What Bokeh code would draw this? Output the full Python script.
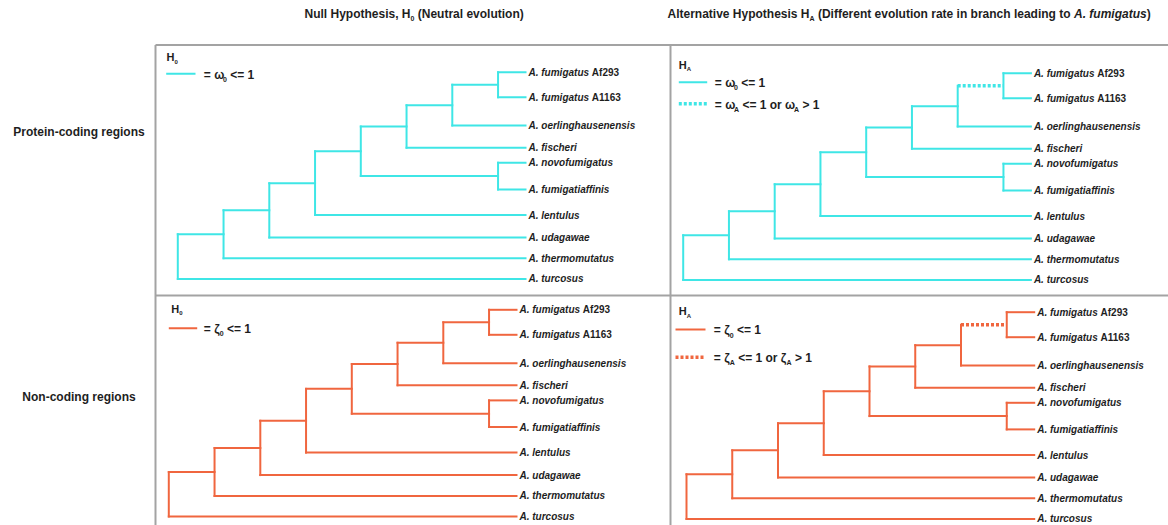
from bokeh.plotting import figure
from bokeh.models import Range1d
from bokeh.embed import file_html
from bokeh.resources import INLINE
from bokeh.core.properties import value

W, H = 1168, 525
FONT = "Liberation Sans"
INK = "#1e1e1e"
CYAN = "#3FE6E6"
ORANGE = "#F0663F"
FRAME = "#a3a3a3"

# ---- tree data -------------------------------------------------------------
# taxa from top to bottom
TAXA = ["A. fumigatus Af293", "A. fumigatus A1163", "A. oerlinghausenensis",
        "A. fischeri", "A. novofumigatus", "A. fumigatiaffinis", "A. lentulus",
        "A. udagawae", "A. thermomutatus", "A. turcosus"]

# internal nodes, their two children and their depth level in the cladogram
NODES = ["root", "n1", "n2", "n3", "n4", "n5", "n6", "fumigatus", "novo"]
NODE_CHILDREN = [("n1", "A. turcosus"),
                 ("n2", "A. thermomutatus"),
                 ("n3", "A. udagawae"),
                 ("n4", "A. lentulus"),
                 ("n5", "novo"),
                 ("n6", "A. fischeri"),
                 ("fumigatus", "A. oerlinghausenensis"),
                 ("A. fumigatus Af293", "A. fumigatus A1163"),
                 ("A. novofumigatus", "A. fumigatiaffinis")]
NODE_DEPTH = [0, 1, 2, 3, 4, 5, 6, 7, 7]
TIP_DEPTH = 7.6
FOREGROUND = "fumigatus"   # branch leading to A. fumigatus

# ---- layout ----------------------------------------------------------------
STEP = 45.75                       # px per depth level
ROW_GAPS = [25, 28.4, 22.1, 15.1, 26.6, 25.6, 22.5, 20.8, 20.6]   # px between tips

# advance widths (1/1000 em) of a bold Helvetica-metric face
ADV = {}
ADV.update({c: 278 for c in " ,.ilIj"})
ADV.update({c: 333 for c in "()-ft"})
ADV["r"] = 389
ADV.update({c: 556 for c in "0123456789aceksvxyJ"})
ADV.update({c: 611 for c in "bdghnopquLFTZ"})
ADV.update({c: 584 for c in "<=>"})
ADV.update({c: 722 for c in "ABCDHKNRU"})
ADV.update({c: 667 for c in "EPSVXY"})
ADV.update({c: 778 for c in "GOQw"})
ADV.update({"m": 889, "M": 833, "W": 944, "z": 500,
            "\u03c9": 740, "\u03b6": 470})


def text_width(s, size):
    return sum(ADV.get(c, 600) for c in s) * size / 1000.0


p = figure(width=W, height=H, output_backend="svg", toolbar_location=None,
           x_range=Range1d(0, W), y_range=Range1d(H, 0),
           min_border=0, min_border_left=0, min_border_right=0,
           min_border_top=0, min_border_bottom=0)
p.axis.visible = False
p.grid.visible = False
p.outline_line_color = None
p.background_fill_color = "white"
p.border_fill_color = "white"


def runs(x, yc, parts, size, sub_size=None, drop=3.0):
    """Draw one line of bold / bold-italic / subscript pieces; yc = cap centre."""
    sub_size = sub_size or round(size * 0.58)
    for txt, kind in parts:
        fs = sub_size if kind == "sub" else size
        yy = yc + (0.36 * size + drop - 0.36 * sub_size if kind == "sub" else 0)
        style = "bold italic" if kind == "bi" else "bold"
        lead = len(txt) - len(txt.lstrip(" "))
        x += text_width(" " * lead, fs)
        core = txt.strip(" ")
        if core:
            p.text(x=[x], y=[yy], text=[core], text_font=value(FONT),
                   text_font_size=f"{fs}px", text_font_style=style,
                   text_color=INK, text_baseline="middle", text_align="left")
        x += text_width(txt.lstrip(" "), fs)


# ---- headings and row labels -------------------------------------------------
runs(304, 13.3, [("Null Hypothesis, H", "b"), ("0", "sub"),
                 (" (Neutral evolution)", "b")], 12, sub_size=7)
runs(667, 13.3, [("Alternative Hypothesis H", "b"), ("A", "sub"),
                 (" (Different evolution rate in branch leading to ", "b"),
                 ("A. fumigatus", "bi"), (")", "b")], 12, sub_size=7)

for label, yc in [("Protein-coding regions", 131.5), ("Non-coding regions", 396.5)]:
    p.text(x=[78.5], y=[yc], text=[label], text_font=value(FONT),
           text_font_size="12px", text_font_style="bold", text_color=INK,
           text_align="center", text_baseline="middle")

# ---- panel frames ------------------------------------------------------------
p.segment(x0=[155, 155, 155, 670], y0=[44.5, 295, 44.5, 44.5],
          x1=[W, W, 155, 670], y1=[44.5, 295, H, H],
          line_color=FRAME, line_width=2)

# ---- the four trees ------------------------------------------------------------
PANELS = [
    dict(key="tl", sym="\u03c9", color=CYAN, alt=False, root=(177.3, 71.7),
         h=(166, 56.7), leg=(165.7, 195.0, 73.3), leg2=None, tx=203.3),
    dict(key="tr", sym="\u03c9", color=CYAN, alt=True, root=(682.7, 72.7),
         h=(678.3, 64.3), leg=(678.3, 706.7, 81.7), leg2=103.3, tx=714.3),
    dict(key="bl", sym="\u03b6", color=ORANGE, alt=False, root=(168.3, 309.3),
         h=(170.7, 308.3), leg=(168.3, 196.7, 327.7), leg2=None, tx=203.3),
    dict(key="br", sym="\u03b6", color=ORANGE, alt=True, root=(686.0, 311.7),
         h=(678.3, 310.7), leg=(675.0, 705.0, 329.0), leg2=356.7, tx=713.3),
]

tip_y = {TAXA[0]: 0.0}
acc = 0.0
for name, gap in zip(TAXA[1:], ROW_GAPS):
    acc += gap
    tip_y[name] = acc

children = dict(zip(NODES, NODE_CHILDREN))
depth = dict(zip(NODES, NODE_DEPTH))
depth.update({t: TIP_DEPTH for t in TAXA})


def node_y(n):
    if n in tip_y:
        return tip_y[n]
    a, b = children[n]
    return (node_y(a) + node_y(b)) / 2.0


for pn in PANELS:
    rx, ry = pn["root"]
    xr, yr = pn["key"] + "_x", pn["key"] + "_y"
    p.extra_x_ranges[xr] = Range1d((0 - rx) / STEP, (W - rx) / STEP)
    p.extra_y_ranges[yr] = Range1d(H - ry, -ry)

    solid = dict(x0=[], y0=[], x1=[], y1=[])
    dotted = dict(x0=[], y0=[], x1=[], y1=[])
    for n in NODES:
        d = depth[n]
        a, b = children[n]
        ya, yb = node_y(a), node_y(b)
        for k, v in zip(("x0", "y0", "x1", "y1"), (d, ya, d, yb)):
            solid[k].append(v)
        for c, yc in ((a, ya), (b, yb)):
            tgt = dotted if (pn["alt"] and c == FOREGROUND) else solid
            for k, v in zip(("x0", "y0", "x1", "y1"), (d, yc, depth[c], yc)):
                tgt[k].append(v)
    p.segment(x_range_name=xr, y_range_name=yr, line_color=pn["color"],
              line_width=2, line_cap="square", **solid)
    if dotted["x0"]:
        p.segment(x_range_name=xr, y_range_name=yr, line_color=pn["color"],
                  line_width=3.5, line_dash="3 2", **dotted)

    # tip labels
    for t in TAXA:
        words = t.split(" ")
        parts = [(" ".join(words[:2]), "bi")]
        if len(words) > 2:
            parts.append((" " + " ".join(words[2:]), "b"))
        lx = rx + TIP_DEPTH * STEP + 3
        runs(lx, ry + tip_y[t], parts, 10)

    # panel tag and key
    hx, hy = pn["h"]
    runs(hx, hy, [("H", "b"), ("A" if pn["alt"] else "0", "sub")], 11,
         sub_size=6, drop=2.5)
    x0, x1, ly = pn["leg"]
    s = pn["sym"]
    p.segment(x0=[x0], y0=[ly], x1=[x1], y1=[ly], line_color=pn["color"], line_width=2)
    runs(pn["tx"], ly + 0.8, [("= " + s, "b"), ("0", "sub"), (" <= 1", "b")], 12, sub_size=7)
    if pn["leg2"] is not None:
        ly2 = pn["leg2"]
        p.segment(x0=[x0], y0=[ly2], x1=[x1], y1=[ly2], line_color=pn["color"],
                  line_width=3.5, line_dash="3 2")
        runs(pn["tx"], ly2 + 0.8, [("= " + s, "b"), ("A", "sub"),
                                   (" <= 1 or " + s, "b"), ("A", "sub"),
                                   (" > 1", "b")], 12, sub_size=7)

open("out.html", "w").write(file_html(p, INLINE))
